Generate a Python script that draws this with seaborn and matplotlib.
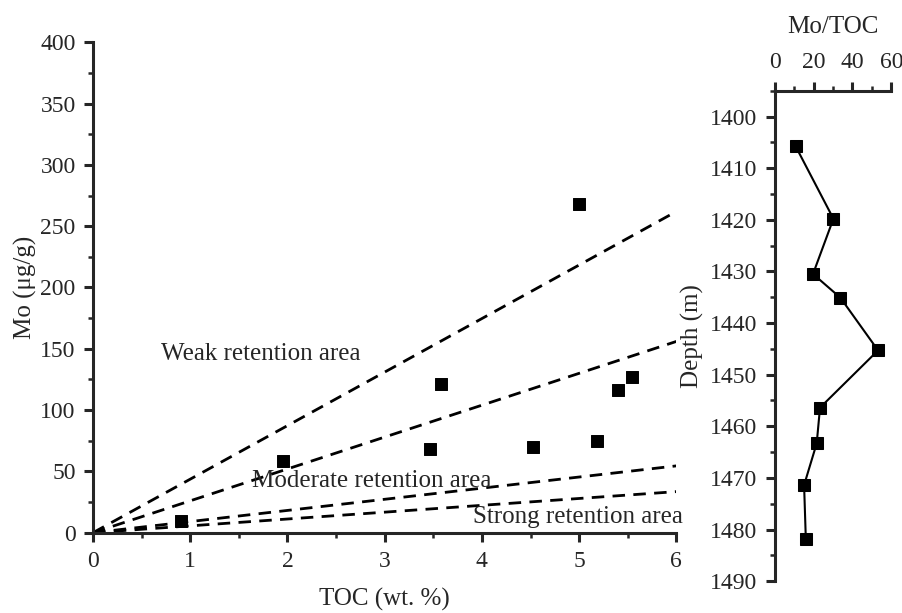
import pandas as pd
import seaborn as sns
import matplotlib.pyplot as plt
from matplotlib.ticker import MultipleLocator

# scatter: TOC vs Mo
toc = [0.90, 1.95, 3.47, 3.58, 4.53, 5.00, 5.18, 5.40, 5.54]
mo = [9.6, 58.4, 68.6, 121.0, 69.6, 268.5, 75.0, 116.5, 127.0]

# retention boundary lines, Mo value at TOC = 0 and TOC = 6
line_toc = [0, 6]
line_ends = [262, 156, 54.5, 33.5]

# depth profile
depth = [1405.8, 1419.8, 1430.5, 1435.1, 1445.3, 1456.4, 1463.3, 1471.4, 1481.9]
mo_toc = [10.8, 30.2, 19.7, 33.8, 53.2, 23.3, 21.6, 15.1, 16.0]

sns.set_style('ticks')
plt.rcParams['font.family'] = ['Liberation Serif', 'DejaVu Serif']
plt.rcParams['font.size'] = 17

fig = plt.figure(figsize=(9.03, 6.13), dpi=100)
ax = fig.add_axes([0.103, 0.131, 0.646, 0.800])
ax2 = fig.add_axes([0.858, 0.052, 0.129, 0.800])

lines = pd.DataFrame([(x, e * x / 6, i) for i, e in enumerate(line_ends) for x in line_toc],
                     columns=['TOC', 'Mo', 'line'])
sns.lineplot(data=lines, x='TOC', y='Mo', units='line', estimator=None, color='black',
             lw=2, linestyle=(0, (4.5, 3)), ax=ax)
df = pd.DataFrame({'TOC': toc, 'Mo': mo})
sns.scatterplot(data=df, x='TOC', y='Mo', marker='s', s=75, color='black', edgecolor='black', ax=ax)

ax.set_xlim(0, 6)
ax.set_ylim(0, 400)
ax.xaxis.set_major_locator(MultipleLocator(1))
ax.xaxis.set_minor_locator(MultipleLocator(0.5))
ax.yaxis.set_major_locator(MultipleLocator(50))
ax.yaxis.set_minor_locator(MultipleLocator(25))
ax.set_xlabel('TOC (wt. %)', fontsize=18, labelpad=11)
ax.set_ylabel('Mo (μg/g)', fontsize=18, labelpad=2)
ax.text(0.70, 146, 'Weak retention area', fontsize=18, va='center')
ax.text(1.64, 42, 'Moderate retention area', fontsize=18, va='center')
ax.text(3.91, 13, 'Strong retention area', fontsize=18, va='center', clip_on=False)
sns.despine(ax=ax)

sns.lineplot(x=mo_toc, y=depth, sort=False, estimator=None, color='black', lw=1.5,
             marker='s', markersize=8.5, markeredgecolor='black', ax=ax2)
ax2.set_xlim(0, 60)
ax2.set_ylim(1490, 1395)
ax2.xaxis.tick_top()
ax2.xaxis.set_label_position('top')
ax2.xaxis.set_major_locator(MultipleLocator(20))
ax2.xaxis.set_minor_locator(MultipleLocator(10))
ax2.yaxis.set_major_locator(MultipleLocator(10))
ax2.yaxis.set_minor_locator(MultipleLocator(5))
ax2.set_xlabel('Mo/TOC', fontsize=18, labelpad=14)
ax2.set_ylabel('Depth (m)', fontsize=18, labelpad=4)
ax2.spines['right'].set_visible(False)
ax2.spines['bottom'].set_visible(False)

for a in (ax, ax2):
    for s in a.spines.values():
        s.set_linewidth(2.2)
    a.tick_params(which='major', direction='out', length=6.5, width=2.2, pad=6)
    a.tick_params(which='minor', direction='out', length=3.5, width=1.8)
ax.tick_params(axis='x', which='major', pad=7)

fig.savefig('out.png', dpi=100)
